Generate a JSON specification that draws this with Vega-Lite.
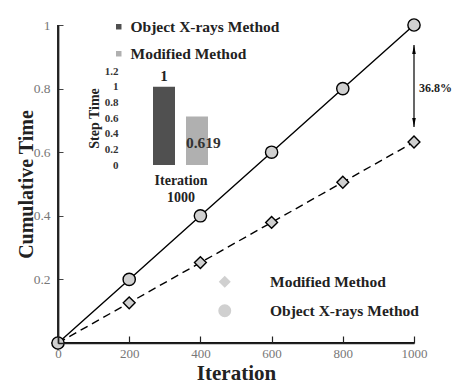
{
  "$schema": "https://vega.github.io/schema/vega-lite/v6.json",
  "width": 356,
  "height": 318,
  "autosize": {"type": "none"},
  "padding": {"left": 58, "top": 25, "right": 40, "bottom": 42},
  "background": "white",
  "config": {"view": {"stroke": null}, "font": "Liberation Serif"},
  "datasets": {
    "cum": [
      {"iter": 0, "time": 0, "series": "Object X-rays Method"},
      {"iter": 200, "time": 0.2, "series": "Object X-rays Method"},
      {"iter": 400, "time": 0.4, "series": "Object X-rays Method"},
      {"iter": 600, "time": 0.6, "series": "Object X-rays Method"},
      {"iter": 800, "time": 0.8, "series": "Object X-rays Method"},
      {"iter": 1000, "time": 1.0, "series": "Object X-rays Method"},
      {"iter": 0, "time": 0, "series": "Modified Method"},
      {"iter": 200, "time": 0.1264, "series": "Modified Method"},
      {"iter": 400, "time": 0.2528, "series": "Modified Method"},
      {"iter": 600, "time": 0.3792, "series": "Modified Method"},
      {"iter": 800, "time": 0.5056, "series": "Modified Method"},
      {"iter": 1000, "time": 0.632, "series": "Modified Method"}
    ],
    "arrow": [{"iter": 1000, "top": 0.937, "bottom": 0.679, "mid": 0.802, "label": "36.8%"}],
    "step": [
      {"method": "Object X-rays Method", "time": 1, "label": "1"},
      {"method": "Modified Method", "time": 0.619, "label": "0.619"}
    ]
  },
  "layer": [
    {
      "layer": [
        {
          "data": {"values": [{}]},
          "mark": {"type": "rule", "color": "#111", "strokeWidth": 2},
          "encoding": {
            "x": {"datum": 0.3, "type": "quantitative"},
            "x2": {"datum": 1000},
            "y": {"datum": 0.0003, "type": "quantitative"}
          }
        },
        {
          "data": {"values": [{}]},
          "mark": {"type": "rule", "color": "#111", "strokeWidth": 2},
          "encoding": {
            "x": {"datum": 0.3, "type": "quantitative"},
            "y": {"datum": 0.0003, "type": "quantitative"},
            "y2": {"datum": 1}
          }
        },
        {
          "data": {"name": "cum"},
          "transform": [{"filter": "datum.series === 'Modified Method'"}],
          "mark": {"type": "line", "color": "black", "strokeWidth": 1.4, "strokeDash": [8, 5]},
          "encoding": {
            "x": {
              "field": "iter", "type": "quantitative",
              "scale": {"domain": [0, 1000], "nice": false},
              "axis": {
                "title": "Iteration", "titleFontSize": 21, "titleFontWeight": "bold", "titleColor": "#222", "titlePadding": 2,
                "values": [0, 200, 400, 600, 800, 1000],
                "format": "d",
                "labelOverlap": false,
                "labelFontSize": 13, "labelColor": "#777", "labelPadding": 11, "labelFlush": false,
                "domain": true, "ticks": true, "tickSize": -7,
                "tickColor": "#222", "tickWidth": 1.2,
                "domainColor": "#222", "domainWidth": 1.6, "grid": false, "zindex": 1
              }
            },
            "y": {
              "field": "time", "type": "quantitative",
              "scale": {"domain": [0, 1], "nice": false},
              "axis": {
                "title": "Cumulative Time", "titleFontSize": 20, "titleFontWeight": "bold", "titleColor": "#222", "titlePadding": -3,
                "values": [0.2, 0.4, 0.6, 0.8, 1],
                "format": ".1~f",
                "labelOverlap": false,
                "labelFontSize": 13.5, "labelColor": "#777", "labelPadding": 13, "labelFlush": false,
                "domain": true, "ticks": true, "tickSize": -5,
                "tickColor": "#444", "tickWidth": 1,
                "domainColor": "#222", "domainWidth": 1.6, "grid": false, "zindex": 1
              }
            }
          }
        },
        {
          "data": {"name": "cum"},
          "transform": [{"filter": "datum.series === 'Object X-rays Method'"}],
          "mark": {"type": "line", "color": "black", "strokeWidth": 1.4},
          "encoding": {
            "x": {"field": "iter", "type": "quantitative"},
            "y": {"field": "time", "type": "quantitative"}
          }
        },
        {
          "data": {"name": "cum"},
          "transform": [{"filter": "false"}],
          "mark": {"type": "point", "filled": true, "fill": "#d0d0d0", "stroke": "black", "strokeWidth": 1.4},
          "encoding": {
            "x": {"field": "iter", "type": "quantitative"},
            "y": {"field": "time", "type": "quantitative"},
            "shape": {
              "field": "series", "type": "nominal",
              "scale": {
                "domain": ["Modified Method", "Object X-rays Method"],
                "range": [
                  "M-32,0L-24,0M-19,0L-11,0M11,0L19,0M24,0L32,0M-6,0L0,-6L6,0L0,6Z",
                  "M-32,0L-6.5,0M6.5,0L32,0M-6.5,0L-6,-2.5L-4.6,-4.6L-2.5,-6L0,-6.5L2.5,-6L4.6,-4.6L6,-2.5L6.5,0L6,2.5L4.6,4.6L2.5,6L0,6.5L-2.5,6L-4.6,4.6L-6,2.5Z"
                ]
              },
              "legend": {
                "orient": "none", "legendX": 159, "legendY": 249, "title": null, "padding": 0,
                "symbolSize": 4, "symbolFillColor": "#d0d0d0", "symbolStrokeColor": "black", "symbolStrokeWidth": 1.4, "symbolOpacity": 1,
                "labelOffset": 37.5, "rowPadding": 10,
                "labelFontSize": 15.5, "labelFontWeight": "bold", "labelColor": "#222", "labelFont": "Liberation Serif"
              }
            }
          }
        },
        {
          "data": {"name": "cum"},
          "transform": [{"filter": "datum.series === 'Modified Method'"}],
          "mark": {"type": "point", "shape": "diamond", "size": 140, "filled": true, "fill": "#d0d0d0", "stroke": "black", "strokeWidth": 1.4, "opacity": 1},
          "encoding": {
            "x": {"field": "iter", "type": "quantitative"},
            "y": {"field": "time", "type": "quantitative"}
          }
        },
        {
          "data": {"name": "cum"},
          "transform": [{"filter": "datum.series === 'Object X-rays Method'"}],
          "mark": {"type": "point", "shape": "circle", "size": 150, "filled": true, "fill": "#d0d0d0", "stroke": "black", "strokeWidth": 1.4, "opacity": 1},
          "encoding": {
            "x": {"field": "iter", "type": "quantitative"},
            "y": {"field": "time", "type": "quantitative"}
          }
        },
        {
          "data": {"name": "arrow"},
          "mark": {"type": "rule", "color": "black", "strokeWidth": 1.2},
          "encoding": {
            "x": {"field": "iter", "type": "quantitative"},
            "y": {"field": "top", "type": "quantitative"},
            "y2": {"field": "bottom"}
          }
        },
        {
          "data": {"name": "arrow"},
          "mark": {"type": "point", "shape": "M0,-1L0.4,1L-0.4,1Z", "size": 81, "filled": true, "color": "black", "opacity": 1, "yOffset": 4.5},
          "encoding": {
            "x": {"field": "iter", "type": "quantitative"},
            "y": {"field": "top", "type": "quantitative"}
          }
        },
        {
          "data": {"name": "arrow"},
          "mark": {"type": "point", "shape": "M0,1L0.4,-1L-0.4,-1Z", "size": 81, "filled": true, "color": "black", "opacity": 1, "yOffset": -4.5},
          "encoding": {
            "x": {"field": "iter", "type": "quantitative"},
            "y": {"field": "bottom", "type": "quantitative"}
          }
        },
        {
          "data": {"name": "arrow"},
          "mark": {"type": "text", "align": "left", "baseline": "middle", "dx": 5, "fontSize": 12, "fontWeight": "bold", "color": "#222", "font": "Liberation Serif"},
          "encoding": {
            "x": {"field": "iter", "type": "quantitative"},
            "y": {"field": "mid", "type": "quantitative"},
            "text": {"field": "label"}
          }
        }
      ]
    },
    {
      "layer": [
        {
          "data": {"name": "step"},
          "mark": {"type": "bar", "opacity": 1},
          "encoding": {
            "x": {
              "field": "method", "type": "nominal",
              "scale": {"domain": ["Object X-rays Method", "Modified Method"], "range": [89.5, 155.5], "paddingInner": 0.3333, "paddingOuter": 0.1667},
              "axis": {
                "orient": "bottom", "offset": -178, "labels": false, "grid": false,
                "domain": false, "ticks": false,
                "title": ["Iteration", "1000"], "titleFontSize": 14, "titleFontWeight": "bold", "titleColor": "#222", "titlePadding": 8, "titleLineHeight": 17
              }
            },
            "y": {
              "field": "time", "type": "quantitative",
              "scale": {"domain": [0, 1.2], "range": [140, 46], "nice": false},
              "axis": {
                "orient": "left", "offset": -62, "grid": false,
                "domain": false, "ticks": false,
                "values": [0, 0.2, 0.4, 0.6, 0.8, 1, 1.2],
                "format": ".1~f",
                "labelOverlap": false,
                "labelFontSize": 11, "labelFontWeight": "bold", "labelColor": "#333", "labelPadding": 2,
                "title": "Step Time", "titleFontSize": 14, "titleFontWeight": "bold", "titleColor": "#222", "titlePadding": 3
              }
            },
            "color": {
              "field": "method", "type": "nominal",
              "scale": {"domain": ["Object X-rays Method", "Modified Method"], "range": ["#505050", "#b0b0b0"]},
              "legend": {
                "orient": "none", "legendX": 53, "legendY": -6, "title": null, "padding": 0,
                "symbolType": "square", "symbolSize": 30, "labelOffset": 4, "rowPadding": 10,
                "labelFontSize": 15.5, "labelFontWeight": "bold", "labelColor": "#222", "labelFont": "Liberation Serif"
              }
            }
          }
        },
        {
          "data": {"name": "step"},
          "transform": [{"filter": "datum.method === 'Object X-rays Method'"}],
          "mark": {"type": "text", "baseline": "bottom", "dy": -3, "fontSize": 15, "fontWeight": "bold", "color": "#222", "font": "Liberation Serif"},
          "encoding": {
            "x": {"field": "method", "type": "nominal"},
            "y": {"field": "time", "type": "quantitative"},
            "text": {"field": "label"}
          }
        },
        {
          "data": {"name": "step"},
          "transform": [{"filter": "datum.method === 'Modified Method'"}],
          "mark": {"type": "text", "align": "left", "baseline": "middle", "fontSize": 15.5, "fontWeight": "bold", "color": "#333", "font": "Liberation Serif"},
          "encoding": {
            "x": {"field": "method", "type": "nominal", "bandPosition": 0},
            "y": {"datum": 0.28, "type": "quantitative"},
            "text": {"field": "label"}
          }
        }
      ]
    }
  ],
  "resolve": {
    "scale": {"x": "independent", "y": "independent"},
    "axis": {"x": "independent", "y": "independent"}
  }
}
